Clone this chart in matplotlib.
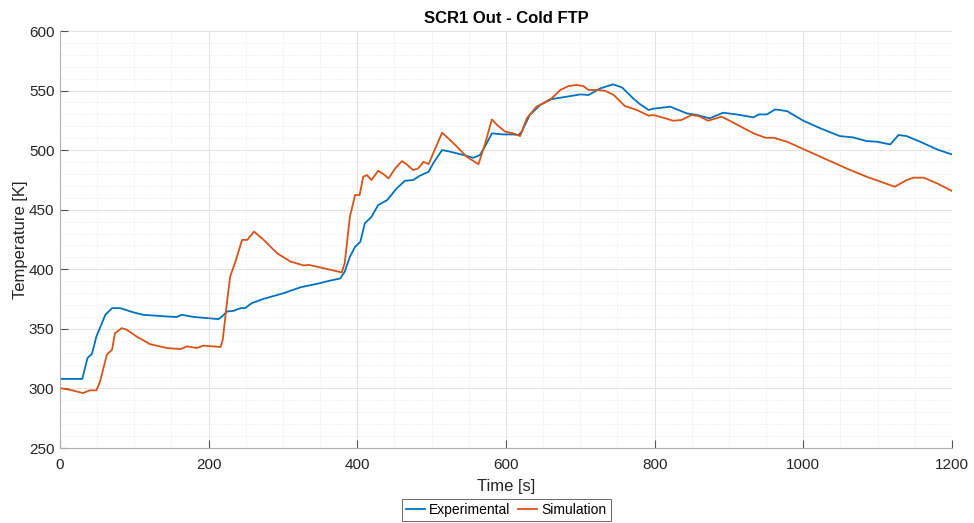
"""SCR1 outlet temperature over the cold FTP: measured vs simulated."""
import matplotlib
matplotlib.use("Agg")
import matplotlib.pyplot as plt
from matplotlib.ticker import MultipleLocator

plt.rcParams["font.family"] = ["Liberation Sans", "DejaVu Sans"]

# values
exp_t = [0, 30, 37, 43, 49, 61, 70, 81, 99, 112, 144, 157, 164, 180, 198, 213, 218,
         225, 234, 243, 249, 258, 274, 301, 324, 346, 364, 377, 383, 390, 397, 404,
         410, 419, 428, 440, 453, 464, 475, 484, 496, 502, 514, 525, 543, 556, 565,
         574, 581, 596, 610, 617, 621, 632, 646, 659, 682, 700, 711, 727, 744, 756,
         771, 780, 792, 798, 821, 843, 857, 874, 892, 910, 933, 940, 951, 962, 978,
         1000, 1023, 1049, 1067, 1085, 1099, 1117, 1128, 1139, 1157, 1180, 1200]
exp_T = [308, 308, 325.5, 329, 343.6, 361.8, 367.4, 367.4, 363.8, 361.8, 360.4, 360,
         361.8, 360, 359, 358.2, 360.4, 364.6, 365.2, 367.4, 367.4, 371.6, 375.2, 380,
         385, 387.8, 390.6, 392.3, 398, 410.5, 418.9, 423, 438.5, 444, 453.9, 458,
         467.9, 474.3, 474.9, 478.5, 481.9, 488.9, 500.1, 498.7, 495.9, 493.6, 495.9,
         505.7, 514.1, 513.2, 513.2, 512.7, 515.5, 529.5, 537.9, 542.6, 544.9, 546.8,
         546.3, 551.9, 555.2, 552.7, 543.5, 538.7, 533.7, 534.8, 536.5, 530.9, 529.5,
         526.7, 531.4, 530, 527.5, 530, 530, 534.2, 532.8, 524.7, 518.3, 511.8, 510.7,
         507.6, 507.1, 504.8, 512.7, 511.8, 507.1, 500.6, 496.4]

sim_t = [0, 13, 31, 40, 49, 54, 63, 70, 74, 83, 90, 103, 121, 144, 162, 171, 184,
         193, 216, 219, 225, 229, 236, 245, 252, 261, 274, 292, 310, 328, 335, 379,
         383, 390, 397, 403, 408, 413, 419, 428, 435, 442, 451, 460, 466, 475, 482,
         489, 496, 502, 514, 520, 534, 547, 563, 572, 581, 588, 599, 610, 619, 628,
         641, 659, 673, 684, 695, 704, 711, 722, 733, 745, 760, 770, 776, 792, 798,
         807, 825, 836, 850, 859, 872, 890, 901, 933, 949, 960, 978, 1000, 1023, 1058,
         1085, 1123, 1139, 1148, 1162, 1180, 1200]
sim_T = [300.3, 298.9, 296.1, 298.4, 298.4, 305.9, 328.3, 332.5, 346.4, 350.6, 349.2,
         343.6, 337.2, 333.9, 333, 335.3, 333.9, 335.9, 334.8, 340.9, 374.4, 394,
         406.5, 424.7, 424.7, 431.7, 424.7, 413.5, 406.5, 403.2, 403.7, 397.4, 405,
         444.1, 462.3, 462.3, 477.7, 479.1, 474.9, 482.7, 479.9, 476.3, 484.7, 490.8,
         488.3, 483.3, 484.7, 490.3, 488.3, 497.3, 514.6, 511.3, 502.9, 494.5, 488.2,
         505.7, 525.8, 521.1, 515.5, 514.1, 511.8, 526.7, 536.5, 542, 550.5, 553.8,
         554.7, 553.8, 550.5, 550.5, 549.9, 546.3, 537, 535, 533.7, 528.9, 529.5,
         528.1, 524.7, 525.3, 529.5, 528.6, 524.7, 528.1, 524.7, 514.1, 510.4, 510.4,
         507.1, 500.9, 494.5, 484.7, 477.7, 469.3, 474.9, 476.9, 476.9, 472.1, 465.7]

fig = plt.figure(figsize=(9.74, 5.23), dpi=100)
ax = fig.add_axes([0.0616, 0.1434, 0.9158, 0.7973])

ax.plot(exp_t, exp_T, color="#0072BD", lw=1.3, label="Experimental")
ax.plot(sim_t, sim_T, color="#D95319", lw=1.3, label="Simulation")

ax.set_xlim(0, 1200); ax.set_ylim(250, 600)
ax.xaxis.set_major_locator(MultipleLocator(200))
ax.xaxis.set_minor_locator(MultipleLocator(50))
ax.yaxis.set_major_locator(MultipleLocator(50))
ax.yaxis.set_minor_locator(MultipleLocator(10))
ax.grid(which="major", color="#e3e3e3", lw=0.7)
ax.grid(which="minor", color="#e3e3e3", lw=0.6, ls=":")
ax.set_axisbelow(True)
for s in ("top", "right"):
    ax.spines[s].set_visible(False)
for s in ("left", "bottom"):
    ax.spines[s].set_color("#b0b0b0")
ax.tick_params(which="major", direction="in", length=6, color="#555555",
               labelsize=11, labelcolor="#262626", pad=4)
ax.tick_params(axis="x", which="major", pad=7)
ax.tick_params(which="minor", length=0)

ax.set_xlabel("Time [s]", fontsize=12, color="#262626", labelpad=5)
ax.set_ylabel("Temperature [K]", fontsize=12, color="#262626", labelpad=1)
ax.set_title("SCR1 Out - Cold FTP", fontsize=12, fontweight="bold", pad=6)

leg = fig.legend(loc="center", bbox_to_anchor=(506 / 974, 1 - 510 / 523), ncol=2,
                 fontsize=10, frameon=True, fancybox=False, handlelength=1.4,
                 handletextpad=0.3, columnspacing=0.5, borderpad=0.3,
                 borderaxespad=0)
leg.get_frame().set_edgecolor("#262626")
leg.get_frame().set_linewidth(0.6)

fig.savefig("out.png")
